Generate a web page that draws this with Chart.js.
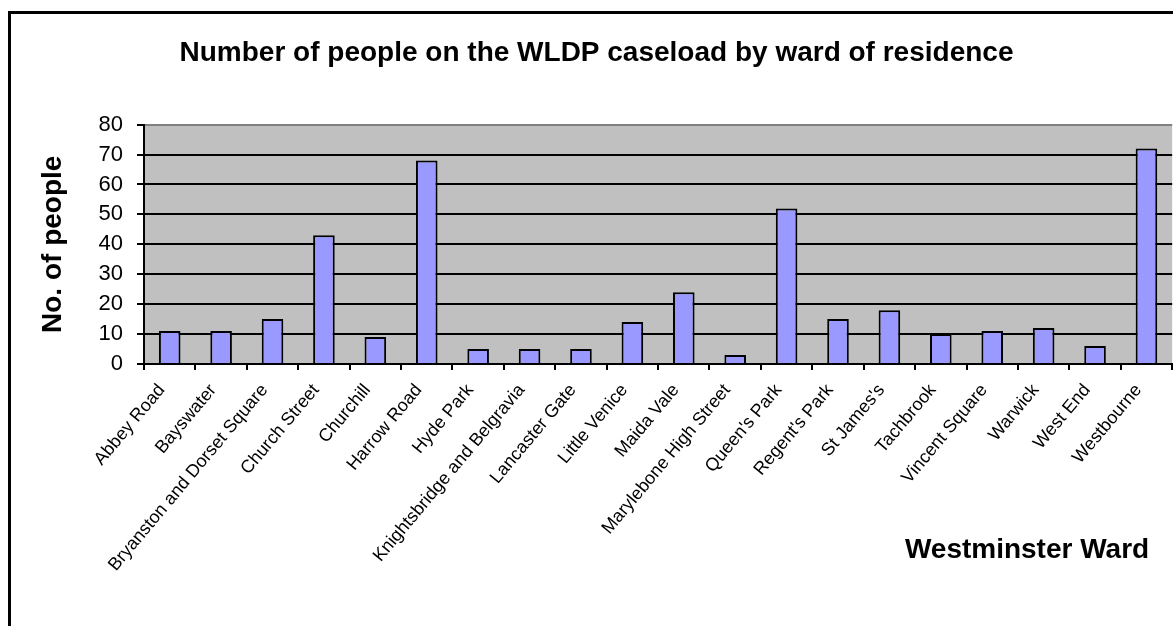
<!DOCTYPE html>
<html>
<head>
<meta charset="utf-8">
<script src="https://cdn.jsdelivr.net/npm/chart.js@4"></script>
<style>
  html, body { margin: 0; padding: 0; background: #fff; }
  #quadro {
    position: absolute; left: 8px; top: 11px; width: 1200px; height: 700px;
    border-left: 3px solid #000; border-top: 3px solid #000;
  }
  #area { position: absolute; left: 0; top: 0; width: 1173px; height: 626px; }
</style>
</head>
<body>
<div id="quadro"></div>
<div id="area"><canvas id="myChart"></canvas></div>
<script>
// wards (eixo x) e contagem de pessoas em cada um
var wards = ['Abbey Road', 'Bayswater', 'Bryanston and Dorset Square', 'Church Street', 'Churchill',
    'Harrow Road', 'Hyde Park', 'Knightsbridge and Belgravia', 'Lancaster Gate', 'Little Venice',
    'Maida Vale', 'Marylebone High Street', "Queen's Park", "Regent's Park", "St James's",
    'Tachbrook', 'Vincent Square', 'Warwick', 'West End', 'Westbourne']
var pessoas = [11, 11, 15, 43, 9, 68, 5, 5, 5, 14, 24, 3, 52, 15, 18, 10, 11, 12, 6, 72]
var ticksY = [0, 10, 20, 30, 40, 50, 60, 70, 80]

var titulo = 'Number of people on the WLDP caseload by ward of residence'
var tituloY = 'No. of people'
var tituloX = 'Westminster Ward'

// fundo cinza da area do grafico
var fundoCinza = {
    id: 'fundoCinza',
    beforeDraw: function (chart) {
        var a = chart.chartArea
        var ctx = chart.ctx
        ctx.save()
        ctx.fillStyle = '#C0C0C0'
        ctx.fillRect(a.left, a.top, a.right - a.left, a.bottom - a.top)
        ctx.restore()
    }
}

// titulo do eixo x fica do lado direito, abaixo dos rotulos
var tituloEixoX = {
    id: 'tituloEixoX',
    afterDraw: function (chart) {
        var ctx = chart.ctx
        ctx.save()
        ctx.font = 'bold 28px "Liberation Sans", Arial, sans-serif'
        ctx.fillStyle = '#000'
        ctx.textAlign = 'right'
        ctx.textBaseline = 'middle'
        ctx.fillText(tituloX, chart.chartArea.right - 23, 550)
        ctx.restore()
    }
}

const ctx = document.getElementById('myChart');

var grafico = new Chart(ctx, {
    type: 'bar',
    data: {
        labels: wards,
        datasets: [{
            label: tituloY,
            data: pessoas,
            backgroundColor: '#9999FF',
            borderColor: '#000',
            borderWidth: 2,
            barPercentage: 0.42,
            categoryPercentage: 1
        }]
    },
    options: {
        responsive: true,
        maintainAspectRatio: false,
        animation: false,
        layout: { padding: { left: 20, right: 0, top: 0, bottom: 0 } },
        plugins: {
            legend: { display: false },
            tooltip: { enabled: false },
            title: {
                display: true,
                text: titulo,
                color: '#000',
                font: { family: '"Liberation Sans", Arial, sans-serif', size: 28, weight: 'bold', lineHeight: 1.2 },
                padding: { top: 36, bottom: 55 }
            }
        },
        scales: {
            x: {
                grid: {
                    offset: true,
                    drawOnChartArea: false,
                    drawTicks: true,
                    tickLength: 6,
                    color: '#000',
                    lineWidth: 2
                },
                border: { display: true, color: '#000', width: 2 },
                ticks: {
                    autoSkip: false,
                    minRotation: 50,
                    maxRotation: 50,
                    padding: 10,
                    labelOffset: -8,
                    color: '#000',
                    font: { family: '"Liberation Sans", Arial, sans-serif', size: 18 }
                },
                afterFit: function (scale) { scale.height = 262 }
            },
            y: {
                min: 0,
                max: 80,
                afterBuildTicks: function (scale) {
                    scale.ticks = ticksY.map(function (v) { return { value: v } })
                },
                grid: {
                    color: function (c) { return c.tick && c.tick.value === 80 ? '#808080' : '#000' },
                    tickColor: '#000',
                    lineWidth: 2,
                    tickLength: 7
                },
                border: { display: true, color: '#000', width: 2 },
                ticks: {
                    padding: 14,
                    color: '#000',
                    font: { family: '"Liberation Sans", Arial, sans-serif', size: 22 }
                },
                title: {
                    display: true,
                    text: tituloY,
                    color: '#000',
                    font: { family: '"Liberation Sans", Arial, sans-serif', size: 28, weight: 'bold', lineHeight: 1.2 },
                    padding: { top: 16, bottom: 0 }
                },
                afterFit: function (scale) { scale.width = 124 }
            }
        }
    },
    plugins: [fundoCinza, tituloEixoX]
});
</script>
</body>
</html>
